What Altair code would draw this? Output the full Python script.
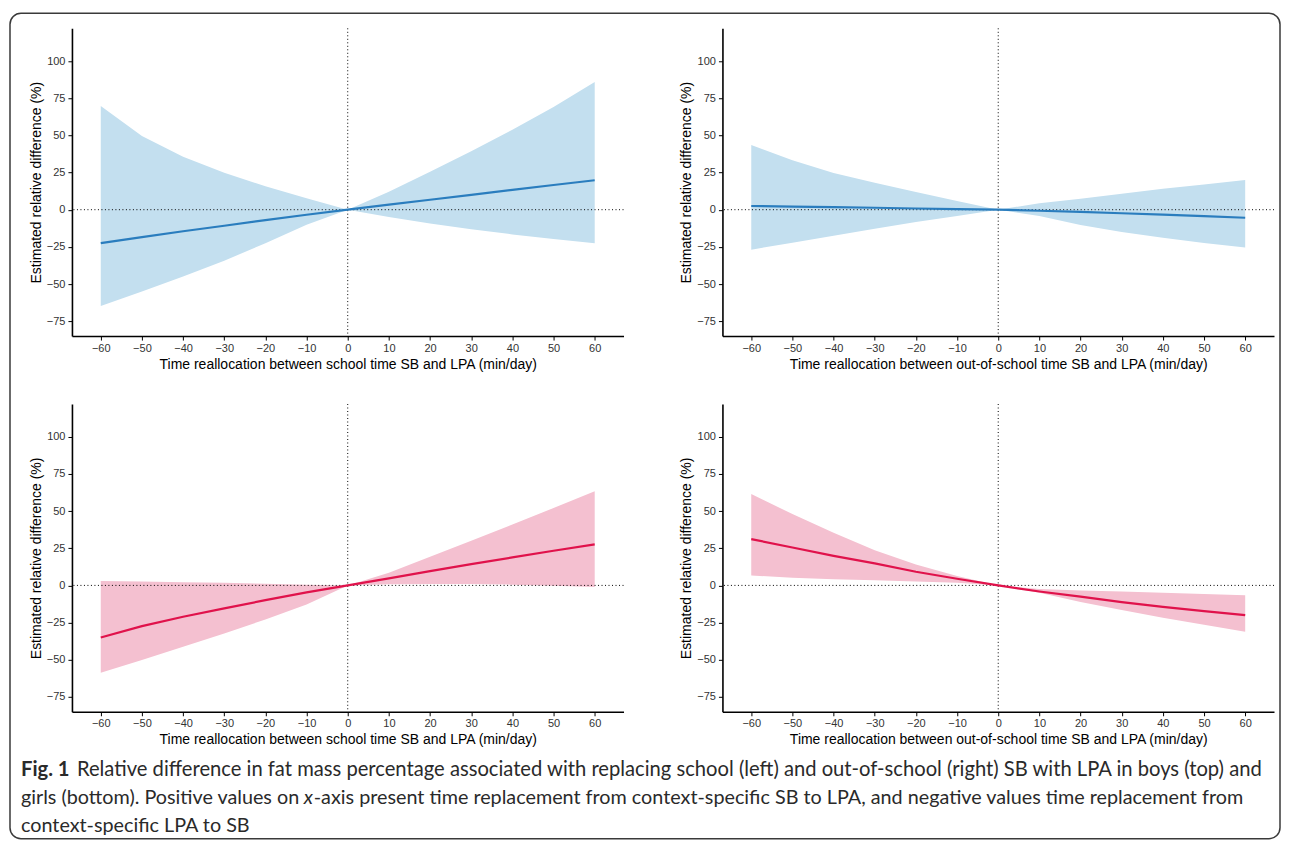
import altair as alt
import pandas as pd

# ---------------- data ----------------
X_MIN = [-60, -50, -40, -30, -20, -10, 0, 10, 20, 30, 40, 50, 60]
X_TICKS = [-60, -50, -40, -30, -20, -10, 0, 10, 20, 30, 40, 50, 60]
Y_TICKS = [-75, -50, -25, 0, 25, 50, 75, 100]

# Boys, school time
BOYS_SCHOOL_FIT = [-22.5, -18.5, -14.5, -10.8, -7.0, -3.4, 0, 3.4, 6.7, 10.0, 13.3, 16.6, 19.8]
BOYS_SCHOOL_LO = [-64.8, -55.1, -45.0, -34.3, -22.6, -10.1, 0, -4.9, -9.3, -13.2, -16.6, -19.7, -22.6]
BOYS_SCHOOL_HI = [69.7, 49.6, 35.6, 24.9, 15.7, 7.7, 0, 12.1, 25.6, 39.3, 53.8, 69.0, 85.9]

# Boys, out-of-school time
BOYS_OUT_FIT = [2.5, 2.1, 1.7, 1.3, 0.8, 0.4, 0, -0.7, -1.5, -2.4, -3.3, -4.3, -5.4]
BOYS_OUT_LO = [-26.9, -22.2, -17.5, -12.8, -8.3, -4.2, 0, -4.2, -10.3, -15.0, -18.8, -22.4, -25.5]
BOYS_OUT_HI = [43.5, 33.2, 24.7, 18.2, 11.9, 5.9, 0, 4.3, 7.4, 10.8, 14.1, 17.0, 20.0]

# Girls, school time
GIRLS_SCHOOL_FIT = [-35.0, -27.4, -21.1, -15.5, -9.9, -4.7, 0, 4.7, 9.6, 14.3, 18.8, 23.3, 27.6]
GIRLS_SCHOOL_LO = [-58.8, -50.2, -41.3, -32.3, -22.9, -12.8, 0, 0.8, 1.0, 0.9, 0.5, -0.2, -1.0]
GIRLS_SCHOOL_HI = [3.0, 2.6, 2.2, 1.7, 1.1, 0.5, 0, 8.5, 19.2, 30.0, 41.0, 52.0, 63.4]

# Girls, out-of-school time
GIRLS_OUT_FIT = [31.1, 25.5, 19.9, 14.8, 9.2, 4.5, 0, -4.1, -7.6, -11.2, -14.4, -17.3, -20.0]
GIRLS_OUT_LO = [6.7, 5.1, 4.2, 3.4, 2.7, 1.8, 0, -5.0, -11.2, -16.6, -21.8, -26.5, -31.2]
GIRLS_OUT_HI = [61.4, 48.0, 35.4, 23.7, 14.1, 6.3, 0, -2.5, -3.4, -4.1, -5.0, -5.8, -6.7]

Y_TITLE = "Estimated relative difference (%)"
X_TITLE_SCHOOL = "Time reallocation between school time SB and LPA (min/day)"
X_TITLE_OUT = "Time reallocation between out-of-school time SB and LPA (min/day)"

CAPTION_BOLD = "Fig. 1"
CAPTION_L1 = ("Relative difference in fat mass percentage associated with replacing school (left) "
              "and out-of-school (right) SB with LPA in boys (top) and")
CAPTION_L2A = "girls (bottom). Positive values on"
CAPTION_L2_ITALIC = "x"
CAPTION_L2B = ("-axis present time replacement from context-specific SB to LPA, and negative values "
               "time replacement from")
CAPTION_L3 = "context-specific LPA to SB"

BLUE_LINE = "#2A7DBE"
BLUE_BAND = "#C3DFEF"
RED_LINE = "#E0124B"
RED_BAND = "#F4C0D0"

W, H = 552, 308
CAP_FONT = "Lato"
CAP_SIZE_1 = 20.2
CAP_SIZE_2 = 19.8


def panel(fit, lo, hi, line_color, band_color, xtitle):
    df = pd.DataFrame({"x": X_MIN, "fit": fit, "lo": lo, "hi": hi})
    xs = alt.Scale(domain=[-67, 67], nice=False, zero=False)
    ys = alt.Scale(domain=[-85, 122], nice=False, zero=False)
    band = alt.Chart(df).mark_area(color=band_color, opacity=1).encode(
        x=alt.X("x:Q", scale=xs, axis=alt.Axis(values=X_TICKS, title=xtitle)),
        y=alt.Y("lo:Q", scale=ys, axis=alt.Axis(values=Y_TICKS, title=Y_TITLE)),
        y2="hi:Q",
    )
    zero = pd.DataFrame({"v": [0]})
    vrule = alt.Chart(zero).mark_rule(color="black", strokeWidth=1, strokeDash=[1, 2.5]).encode(x="v:Q")
    hrule = alt.Chart(zero).mark_rule(color="black", strokeWidth=1, strokeDash=[1, 2.5]).encode(y="v:Q")
    line = alt.Chart(df).mark_line(color=line_color, strokeWidth=2.2).encode(x="x:Q", y="fit:Q")
    return [band, vrule, hrule, line]


def text_at(txt, px, py, size, **kw):
    return alt.Chart(pd.DataFrame({"t": [txt]})).mark_text(
        align="left", baseline="middle", font=CAP_FONT, fontSize=size, color="#2a2a2a", **kw
    ).encode(text="t:N", x=alt.value(px), y=alt.value(py))


one = pd.DataFrame({"a": [0]})
border = alt.Chart(one).mark_rect(
    fill="transparent", stroke="#3a3a3a", strokeWidth=1.5, cornerRadius=11
).encode(x=alt.value(-62), x2=alt.value(1209), y=alt.value(-15), y2=alt.value(811))

tl = alt.layer(border, *panel(BOYS_SCHOOL_FIT, BOYS_SCHOOL_LO, BOYS_SCHOOL_HI, BLUE_LINE, BLUE_BAND, X_TITLE_SCHOOL)).properties(width=W, height=H)
tr = alt.layer(*panel(BOYS_OUT_FIT, BOYS_OUT_LO, BOYS_OUT_HI, BLUE_LINE, BLUE_BAND, X_TITLE_OUT)).properties(width=W, height=H)

cap_y1, cap_y2, cap_y3 = 366, 394, 422
cap_x = -51
caption = [
    text_at(CAPTION_BOLD, cap_x, cap_y1, CAP_SIZE_1, fontWeight="bold"),
    text_at(CAPTION_L1, cap_x + 56, cap_y1, CAP_SIZE_1),
    text_at(CAPTION_L2A, cap_x, cap_y2, CAP_SIZE_2),
    text_at(CAPTION_L2_ITALIC, cap_x + 283, cap_y2, CAP_SIZE_2, fontStyle="italic"),
    text_at(CAPTION_L2B, cap_x + 293, cap_y2, CAP_SIZE_2),
    text_at(CAPTION_L3, cap_x, cap_y3, CAP_SIZE_2),
]
bl = alt.layer(*panel(GIRLS_SCHOOL_FIT, GIRLS_SCHOOL_LO, GIRLS_SCHOOL_HI, RED_LINE, RED_BAND, X_TITLE_SCHOOL), *caption).properties(width=W, height=H)
br = alt.layer(*panel(GIRLS_OUT_FIT, GIRLS_OUT_LO, GIRLS_OUT_HI, RED_LINE, RED_BAND, X_TITLE_OUT)).properties(width=W, height=H)

chart = alt.concat(tl, tr, bl, br, columns=2, spacing={"row": 68, "column": 99}, bounds="flush").properties(
    padding={"left": 0, "top": 3, "right": 0, "bottom": 0}
).configure_view(stroke="transparent").configure_axis(
    grid=False,
    domainColor="black",
    domainWidth=1.6,
    tickColor="black",
    tickSize=4,
    tickWidth=1,
    labelFont="Liberation Sans",
    labelFontSize=11,
    labelColor="#333333",
    titleFont="Liberation Sans",
    titleFontSize=14,
    titleFontWeight="normal",
    titleColor="black",
).configure_axisX(labelPadding=2, titlePadding=4).configure_axisY(labelPadding=3, titlePadding=3)

chart.save("out.html", embed_options={"renderer": "svg", "actions": False})
